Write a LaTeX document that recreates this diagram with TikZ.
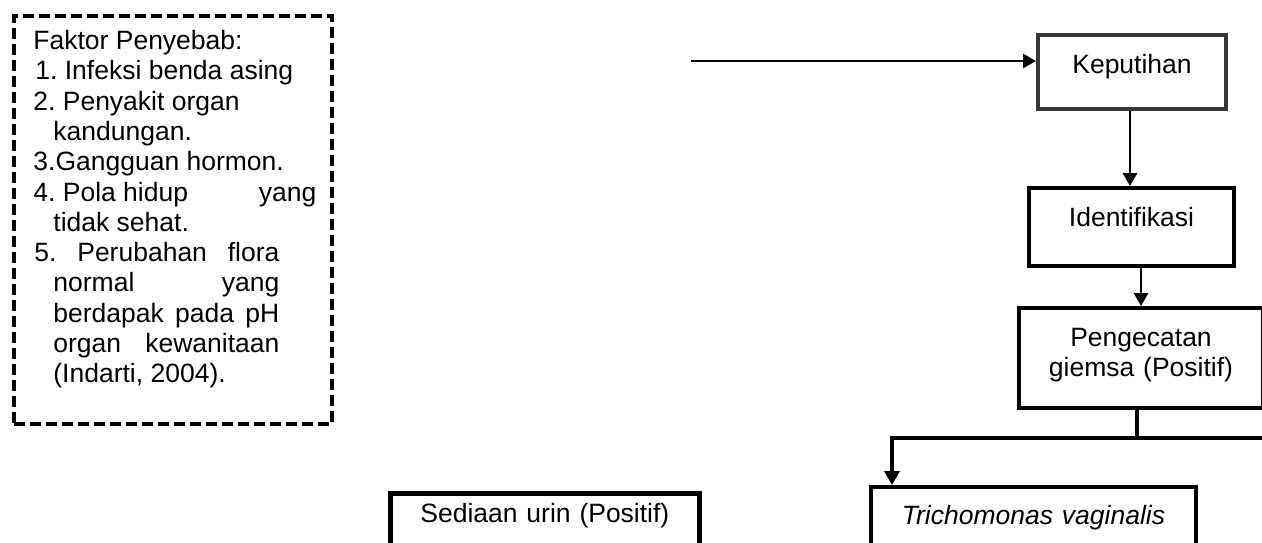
\documentclass[tikz,border=0pt]{standalone}
\usepackage{fontspec}
\setmainfont{Liberation Sans}
\usetikzlibrary{arrows.meta}
\frenchspacing

\begin{document}
\begin{tikzpicture}[x=0.5pt,y=-0.5pt,
  every node/.style={inner sep=0pt, font=\fontsize{13.25}{15.35}\selectfont},
  line/.style={draw=black, line width=1.4pt},
  conn/.style={line, -{Triangle[length=6.5pt,width=7pt]}},
  thickconn/.style={draw=black, line width=2pt, -{Triangle[length=7pt,width=7.5pt]}},
  box/.style={draw=black, line width=2pt, anchor=north west, align=center},
  dashbox/.style={draw=black, line width=2pt, dash pattern=on 5.5pt off 2.5pt,
                  anchor=north west},
  item/.style={anchor=base west}
]
\useasboundingbox (0,0) rectangle (1262,542);
\clip (0,0) rectangle (1262,542);

% list of causes in a dashed frame
\node[dashbox, minimum width=159pt, minimum height=204pt] (faktor) at (12,14) {};
\node[item] (f0)  at (33,49.5)  {Faktor Penyebab:};
\node[item] (f1)  at (35,79.8)  {1. Infeksi benda asing};
\node[item] (f2)  at (33,110.1) {2. Penyakit organ};
\node[item] (f3)  at (53,140.4) {kandungan.};
\node[item] (f4)  at (33,170.7) {3.Gangguan hormon.};
\node[item] (f5)  at (33,201.0) {\makebox[141.5pt][s]{4. Pola hidup\hfill yang}};
\node[item] (f6)  at (53,231.3) {tidak sehat.};
\node[item] (f7)  at (34,261.6) {\makebox[122.5pt][s]{5. Perubahan flora}};
\node[item] (f8)  at (53,291.9) {\makebox[113pt][s]{normal yang}};
\node[item] (f9)  at (53,322.2) {\makebox[113pt][s]{berdapak pada pH}};
\node[item] (f10) at (53,352.5) {\makebox[113pt][s]{organ kewanitaan}};
\node[item] (f11) at (53,382.8) {(Indarti, 2004).};

% flow boxes
\node[box, draw=black!78, text width=94pt, text height=19pt, text depth=18pt]
  (kep) at (1036,33) {Keputihan};
\node[box, text width=102.5pt, text height=19pt, text depth=20pt]
  (iden) at (1027,186) {Identifikasi};
\node[box, text width=122pt, text height=19pt, text depth=31pt]
  (peng) at (1017,306) {Pengecatan\\giemsa (Positif)};
\node[box, text width=162.5pt, text height=18.5pt, text depth=29pt]
  (trich) at (869,485) {\itshape Trichomonas vaginalis};
\node[box, line width=2.4pt, text width=154.5pt, text height=14.5pt, text depth=30pt]
  (urin) at (388,491) {Sediaan urin (Positif)};

% connectors
\coordinate (src) at (691,61);
\draw[conn] (src) -- (src -| kep.west);
\draw[conn] ([xshift=-1pt]kep.south) -- ([xshift=-1pt]kep.south |- iden.north);
\draw[conn] (iden.south -| peng.north) -- (peng.north);
\coordinate (split) at (1137,438);
\coordinate (corner) at (892,438);
\coordinate (rightend) at (1280,438);
\draw[draw=black, line width=2pt] (peng.south -| split) -- (split);
\draw[thickconn] (rightend) -- (corner) -- (corner |- trich.north);
\end{tikzpicture}
\end{document}
